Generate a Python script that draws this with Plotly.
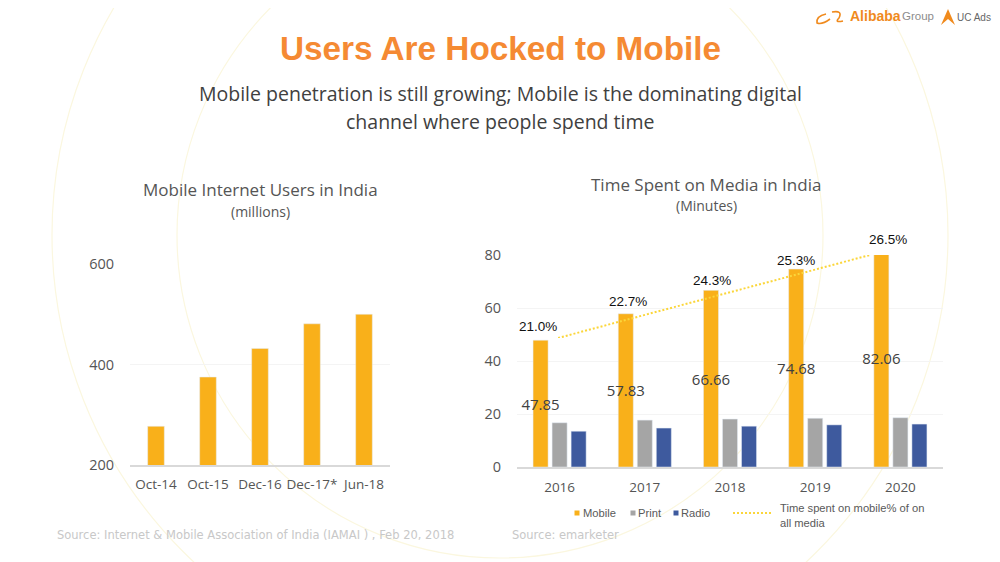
import plotly.graph_objects as go

W, H = 1000, 562
# the page has an 8px body margin, so the figure is drawn smaller and shifted to suit
OFFSET = 8
FIG_W, FIG_H = W - OFFSET, H - OFFSET

user_months = ['Oct-14', 'Oct-15', 'Dec-16', 'Dec-17*', 'Jun-18']
user_millions = [277, 375, 432, 481, 500]

years = ['2016', '2017', '2018', '2019', '2020']
mobile = [47.85, 57.83, 66.66, 74.68, 82.06]
print_media = [16.7, 17.7, 18.1, 18.4, 18.6]
radio = [13.5, 14.7, 15.4, 15.9, 16.2]
share_years = [2016, 2017, 2018, 2019, 2020]
share = [21.0, 22.7, 24.3, 25.3, 26.5]

ORANGE = '#F9B01A'
GREY = '#A5A5A5'
BLUE = '#3E5A9E'
DOTTED = '#FBD63A'
TEXT = '#404040'
SOFT = '#555555'
SANS = 'Open Sans'


def px(x):
    return (x - OFFSET) / FIG_W


def py(y):
    return 1 - (y - OFFSET) / FIG_H


def label(x, y, text, size, color=TEXT, family=SANS, xanchor='center', **kw):
    return dict(x=px(x), y=py(y), xref='paper', yref='paper', text=text, showarrow=False,
                xanchor=xanchor, yanchor='middle',
                font=dict(size=size, color=color, family=family), **kw)


fig = go.Figure()

fig.add_trace(go.Bar(x=user_months, y=user_millions, width=0.32, marker_color=ORANGE,
                     xaxis='x', yaxis='y', showlegend=False))

fig.add_trace(go.Bar(x=years, y=mobile, name='Mobile', marker_color=ORANGE, xaxis='x2', yaxis='y2',
                     text=[f'{v:.2f}' for v in mobile], textposition='inside', insidetextanchor='middle',
                     textangle=0, constraintext='none', cliponaxis=True,
                     insidetextfont=dict(size=15, color=TEXT, family=SANS)))
fig.add_trace(go.Bar(x=years, y=print_media, name='Print', marker_color=GREY, xaxis='x2', yaxis='y2'))
fig.add_trace(go.Bar(x=years, y=radio, name='Radio', marker_color=BLUE, xaxis='x2', yaxis='y2'))

# the share line is a straight run from first to last value on its own hidden axes
fig.add_trace(go.Scatter(x=[share_years[0], share_years[-1]], y=[share[0], share[-1]], mode='lines',
                         line=dict(color=DOTTED, width=2, dash='2px,2px'), xaxis='x3', yaxis='y3',
                         cliponaxis=False, name='Time spent on mobile% of on all media'))

x_font = dict(size=13.5, color=SOFT, family=SANS)
y_font = dict(size=14.5, color=SOFT, family=SANS)
fig.update_layout(
    width=FIG_W, height=FIG_H, margin=dict(l=0, r=0, t=0, b=0, autoexpand=False),
    paper_bgcolor='white', plot_bgcolor='rgba(0,0,0,0)',
    showlegend=False, barmode='group', bargap=0.33, bargroupgap=0.21,
    xaxis=dict(domain=[px(130), px(390)], anchor='y', showgrid=False, showline=True, automargin=False,
               linecolor='#D9D9D9', linewidth=1.5, ticks='outside', ticklen=6,
               tickcolor='rgba(0,0,0,0)', tickfont=x_font),
    yaxis=dict(domain=[py(465), py(264)], anchor='x', range=[200, 600], tickvals=[200, 400, 600],
               gridcolor='#F4F4F4', zeroline=False, tickfont=y_font, ticks='outside', automargin=False,
               ticklen=12, tickcolor='rgba(0,0,0,0)'),
    xaxis2=dict(domain=[px(517), px(943)], anchor='y2', showgrid=False, showline=True, automargin=False,
                linecolor='#D9D9D9', linewidth=1.5, ticks='outside', ticklen=7,
                tickcolor='rgba(0,0,0,0)', tickfont=x_font),
    yaxis2=dict(domain=[py(467), py(255)], anchor='x2', range=[0, 80], tickvals=[0, 20, 40, 60, 80],
                gridcolor='#F4F4F4', zeroline=False, tickfont=y_font, ticks='outside', automargin=False,
                ticklen=12, tickcolor='rgba(0,0,0,0)'),
    xaxis3=dict(domain=[px(558), px(870)], anchor='y3', range=[2016, 2020], visible=False),
    yaxis3=dict(domain=[py(338), py(255)], anchor='x3', range=[21, 26.5], visible=False),
)

# faint background rings, then the hand-built legend marks
ring = '#FBF7DF'
shapes = []
for r in [448, 323]:
    shapes.append(dict(type='circle', xref='paper', yref='paper', layer='below',
                       x0=px(500 - r), x1=px(500 + r), y0=py(235 + r), y1=py(235 - r),
                       line=dict(color=ring, width=1.2)))
for x, c in [(577, ORANGE), (633, GREY), (676, BLUE)]:
    shapes.append(dict(type='rect', xref='paper', yref='paper', x0=px(x - 2.5), x1=px(x + 2.5),
                       y0=py(515.5), y1=py(510.5), fillcolor=c, line_width=0))
shapes.append(dict(type='line', xref='paper', yref='paper', x0=px(733), x1=px(771), y0=py(513), y1=py(513),
                   line=dict(color=DOTTED, width=2, dash='2px,2px')))
# logo marks
shapes.append(dict(type='path', xref='paper', yref='paper',
                   path=f'M {px(941)} {py(25)} L {px(948)} {py(9)} L {px(955)} {py(25)} '
                        f'L {px(948)} {py(19)} Z',
                   fillcolor='#F08A1D', line_width=0))
shapes.append(dict(type='path', xref='paper', yref='paper',
                   path=f'M {px(826)} {py(14)} Q {px(816)} {py(16)} {px(817)} {py(23)} '
                        f'Q {px(822)} {py(25)} {px(830)} {py(19)} M {px(832)} {py(12)} '
                        f'Q {px(843)} {py(10)} {px(839)} {py(18)} Q {px(834)} {py(23)} {px(843)} {py(21)}',
                   line=dict(color='#F08A1D', width=1.6)))
fig.update_layout(shapes=shapes)

share_pos = [(538, 326), (628, 301), (712, 280), (796, 260), (888, 240)]
notes = [
    label(500, 49, '<b>Users Are Hocked to Mobile</b>', 33.3, '#F58A33', 'Liberation Sans'),
    label(500, 94, 'Mobile penetration is still growing; Mobile is the dominating digital', 19.5),
    label(500, 121, 'channel where people spend time', 19.5),
    label(260, 189, 'Mobile Internet Users in India', 17, SOFT),
    label(260, 211, '(millions)', 14, SOFT),
    label(706, 184, 'Time Spent on Media in India', 17, SOFT),
    label(706, 206, '(Minutes)', 14, SOFT),
    label(255, 535, 'Source: Internet &amp; Mobile Association of India (IAMAI ) , Feb 20, 2018', 11.5,
          '#C8C8C8', 'DejaVu Sans'),
    label(565, 535, 'Source: emarketer', 11.5, '#C8C8C8', 'DejaVu Sans'),
    label(599, 513, 'Mobile', 11.2, '#595959', 'Liberation Sans'),
    label(650, 513, 'Print', 11.2, '#595959', 'Liberation Sans'),
    label(695, 513, 'Radio', 11.2, '#595959', 'Liberation Sans'),
    label(778, 515, 'Time spent on mobile% of on<br>all media', 11.2, '#595959', 'Liberation Sans',
          align='left', xanchor='left'),
    label(875, 16, '<b>Alibaba</b>', 14, '#F08A1D', 'Liberation Sans'),
    label(918, 16, 'Group', 11.5, '#8C8C8C', 'Liberation Sans'),
    label(974, 17, 'UC Ads', 10, '#666666', 'Liberation Sans'),
]
for (x, y), v in zip(share_pos, share):
    notes.append(label(x, y, f'{v:.1f}%', 13.5, '#111111', 'Liberation Sans'))
fig.update_layout(annotations=notes)

fig.write_html("out.html")
